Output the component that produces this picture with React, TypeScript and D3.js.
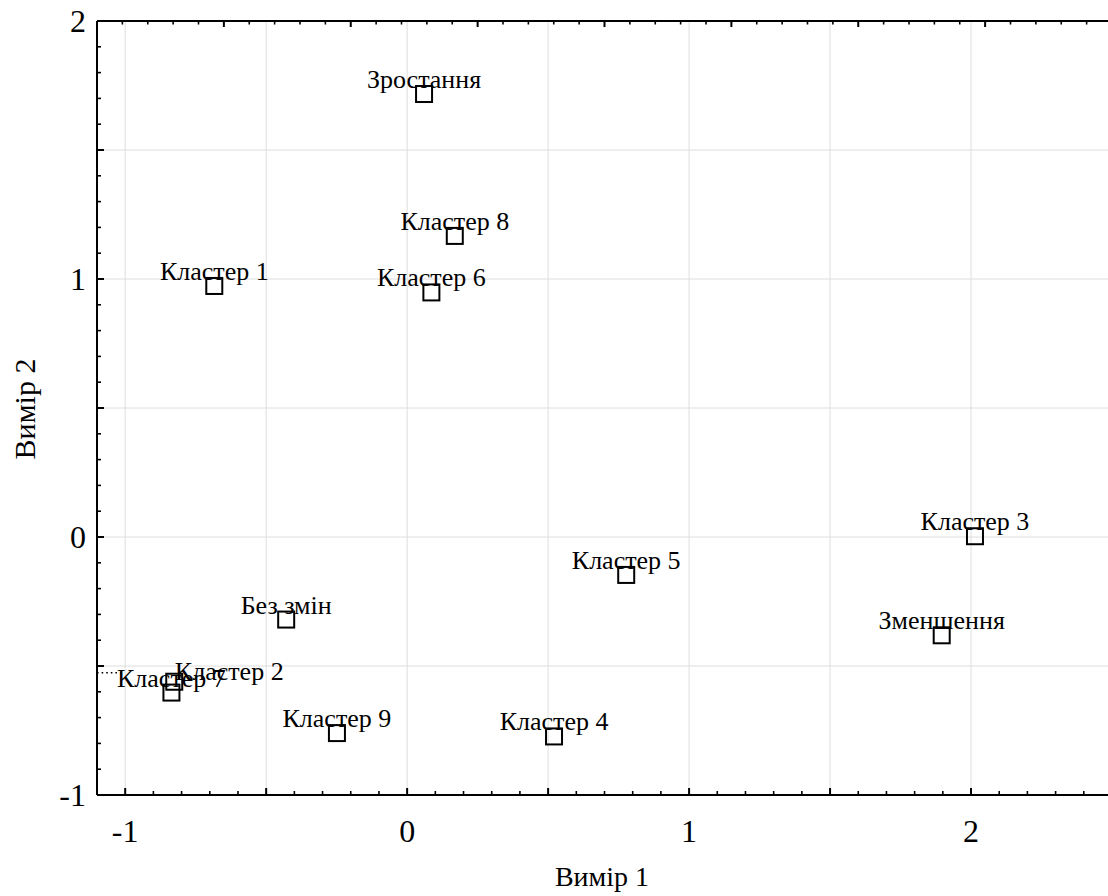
import React from "react";
import * as d3 from "d3";

const labels = ["Зростання", "Кластер 8", "Кластер 6", "Кластер 1", "Кластер 3", "Зменшення", "Кластер 5", "Без змін", "Кластер 9", "Кластер 4", "Кластер 2", "Кластер 7"];
const dim1 = [0.06, 0.169, 0.086, -0.684, 2.014, 1.896, 0.777, -0.429, -0.249, 0.521, -0.826, -0.836];
const dim2 = [1.717, 1.167, 0.948, 0.973, 0.003, -0.381, -0.147, -0.32, -0.76, -0.773, -0.561, -0.603];
const xTickLabels = [-1, 0, 1, 2];
const yTickLabels = [-1, 0, 1, 2];

const W = 1108, H = 896;
const L = 97, R = 1112, T = 21, B = 795;
const FONT = "Liberation Serif, Times New Roman, DejaVu Serif, serif";

export default function App() {
  const x = d3.scaleLinear().domain([-1.1, 2.5]).range([L, R]);
  const y = d3.scaleLinear().domain([-1, 2]).range([B, T]);
  const xTop = d3.scaleLinear().domain([0, 8]).range([L, R]);

  const xGrid = d3.range(-1, 2.51, 0.5);
  const yGrid = d3.range(-0.5, 1.51, 0.5);
  const xMinor = d3.range(-1.1, 2.501, 0.1);
  const yMinor = d3.range(-1, 2.001, 0.1);
  const topMinor = d3.range(0, 8.001, 0.2);

  const isMajor = (v: number, step: number) => Math.abs(v / step - Math.round(v / step)) < 1e-6;

  const nudge: Record<string, [number, number]> = {
    "Кластер 2": [55, 4],
  };
  const sq = 16;
  const ts = { fontFamily: FONT };

  return (
    <svg width={W} height={H} style={{ position: "absolute", left: 0, top: 0, background: "#fff", fontFamily: FONT }}>
      <rect x={0} y={0} width={W} height={H} fill="#fff" />
      {xGrid.map((v, i) => (
        <line key={"xg" + i} x1={x(v)} x2={x(v)} y1={T} y2={B} stroke="#dedede" strokeWidth={1} />
      ))}
      {yGrid.map((v, i) => (
        <line key={"yg" + i} x1={L} x2={R} y1={y(v)} y2={y(v)} stroke="#dedede" strokeWidth={1} />
      ))}
      {xMinor.map((v, i) => {
        const maj = isMajor(v, 0.5);
        return <line key={"xt" + i} x1={x(v)} x2={x(v)} y1={B} y2={B - (maj ? 7 : 4)} stroke="#000" strokeWidth={maj ? 2 : 1.6} />;
      })}
      {topMinor.map((v, i) => {
        const maj = isMajor(v, 1);
        return <line key={"tt" + i} x1={xTop(v)} x2={xTop(v)} y1={T} y2={T + (maj ? 6 : 3.5)} stroke="#000" strokeWidth={maj ? 2 : 1.6} />;
      })}
      {yMinor.map((v, i) => {
        const maj = isMajor(v, 0.5);
        return <line key={"yt" + i} x1={L} x2={L + (maj ? 7 : 4)} y1={y(v)} y2={y(v)} stroke="#000" strokeWidth={maj ? 2 : 1.6} />;
      })}
      <line x1={L} x2={R} y1={B} y2={B} stroke="#000" strokeWidth={2} />
      <line x1={L} x2={R} y1={T} y2={T} stroke="#000" strokeWidth={2} />
      <line x1={L} x2={L} y1={T} y2={B} stroke="#000" strokeWidth={2} />
      {xTickLabels.map((v) => (
        <text key={"xl" + v} x={x(v)} y={842} textAnchor="middle" fontSize={32} style={ts}>{v}</text>
      ))}
      {yTickLabels.map((v) => (
        <text key={"yl" + v} x={86} y={y(v)} textAnchor="end" dominantBaseline="central" fontSize={32} style={ts}>{v}</text>
      ))}
      <text x={602} y={886} textAnchor="middle" fontSize={28} style={ts}>Вимір 1</text>
      <text transform={`translate(35,409) rotate(-90)`} textAnchor="middle" fontSize={30} style={ts}>Вимір 2</text>
      <line x1={L} x2={x(dim1[11]) - 50} y1={y(dim2[10]) - 9} y2={y(dim2[10]) - 9} stroke="#000" strokeWidth={1.6} strokeDasharray="1.6,3" />
      {labels.map((lab, i) => {
        const cx = x(dim1[i]);
        const cy = y(dim2[i]);
        const [dx, dy] = nudge[lab] || [0, 0];
        return (
          <g key={"p" + i}>
            <rect x={cx - sq / 2} y={cy - sq / 2} width={sq} height={sq} fill="none" stroke="#000" strokeWidth={2} />
            <text x={cx + dx} y={cy - 6 + dy} textAnchor="middle" fontSize={26} style={ts}>{lab}</text>
          </g>
        );
      })}
    </svg>
  );
}
